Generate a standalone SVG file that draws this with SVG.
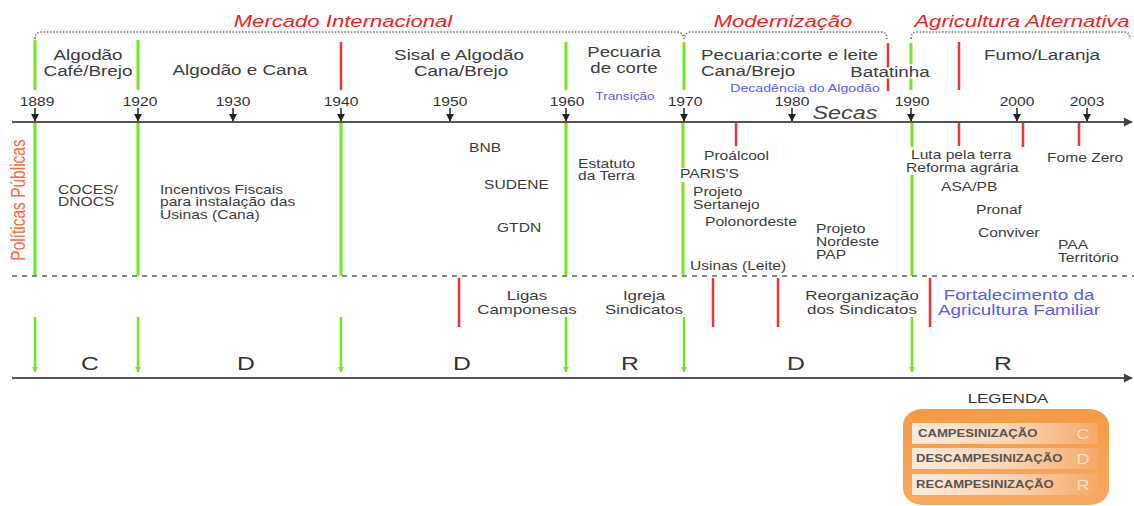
<svg xmlns="http://www.w3.org/2000/svg" width="1134" height="506" viewBox="0 0 1134 506">
<style>
text{font-family:"Liberation Sans",Arial,Helvetica,sans-serif;fill:#3c3c3c}
.top{font-size:14.5px}
.mid{text-anchor:middle}
.yr{font-size:12px;text-anchor:middle;fill:#333}
.pol{font-size:12px}
.low{font-size:13px;text-anchor:middle}
.hdr{font-size:17px;font-style:italic;fill:#ee2424;text-anchor:middle}
.blue{fill:#5a5af0}
.big{font-size:19px;text-anchor:middle;fill:#333}
.halo{stroke:#fff;stroke-width:3;paint-order:stroke}
.g{stroke:#72e61e;stroke-width:3;fill:none}
.ga{stroke:#72e61e;stroke-width:2.5;fill:none}
.r{stroke:#ee3333;stroke-width:2.5;fill:none}
.ax{stroke:#555;stroke-width:2;fill:none}
.ya{stroke:#222;stroke-width:1.5;fill:none}
.dot{stroke:#777;stroke-width:1.6;stroke-dasharray:1.6 1.6;fill:none}
.dash{stroke:#888;stroke-width:2;stroke-dasharray:5 5;fill:none}
.leg{font-size:10.5px;font-weight:bold;fill:#555}
.legl{font-size:15px;fill:#fde2cb;text-anchor:middle}
</style>
<defs>
<marker id="ya" viewBox="0 0 10 10" refX="9" refY="5" markerWidth="8" markerHeight="8" orient="auto" markerUnits="userSpaceOnUse"><path d="M0,0 L10,5 L0,10 z" fill="#222"/></marker>
<marker id="gah" viewBox="0 0 10 10" refX="9" refY="5" markerWidth="6" markerHeight="6" orient="auto" markerUnits="userSpaceOnUse"><path d="M0,0 L10,5 L0,10 z" fill="#72e61e"/></marker>
<marker id="axh" viewBox="0 0 10 10" refX="9" refY="5" markerWidth="10" markerHeight="9" orient="auto" markerUnits="userSpaceOnUse"><path d="M0,0 L10,5 L0,10 z" fill="#444"/></marker>
<linearGradient id="og" x1="0" y1="0" x2="0" y2="1"><stop offset="0" stop-color="#f39a45"/><stop offset="1" stop-color="#f7aa62"/></linearGradient>
<linearGradient id="rowg" x1="0" y1="0" x2="1" y2="0"><stop offset="0" stop-color="#fdeadb"/><stop offset="0.55" stop-color="#fbd3b0"/><stop offset="1" stop-color="#f6a868"/></linearGradient>
</defs>

<g id="connectors">
  <path class="dot" d="M35,39 Q35,32 41,32 L677,32 Q683,32 684,39 Q685,32 691,32 L881,32 Q887,32 887,39"/>
  <path class="dot" d="M911,39 Q911,32 917,32 L1124,32 Q1130,32 1130,39"/>
  <line class="g" x1="35" y1="40" x2="35" y2="90"/>
  <line class="g" x1="138" y1="40" x2="138" y2="90"/>
  <line class="r" x1="341" y1="42" x2="341" y2="90"/>
  <line class="g" x1="566" y1="42" x2="566" y2="90"/>
  <line class="g" x1="684" y1="42" x2="684" y2="90"/>
  <line class="r" x1="888" y1="43" x2="888" y2="91"/>
  <line class="g" x1="911" y1="43" x2="911" y2="90"/>
  <line class="r" x1="959" y1="42" x2="959" y2="90"/>
  <line class="ax" x1="12" y1="122" x2="1132" y2="122" marker-end="url(#axh)"/>
  <g class="ya">
    <line x1="35" y1="108" x2="35" y2="121" marker-end="url(#ya)"/>
    <line x1="138" y1="108" x2="138" y2="121" marker-end="url(#ya)"/>
    <line x1="233" y1="108" x2="233" y2="121" marker-end="url(#ya)"/>
    <line x1="341" y1="108" x2="341" y2="121" marker-end="url(#ya)"/>
    <line x1="450" y1="108" x2="450" y2="121" marker-end="url(#ya)"/>
    <line x1="566" y1="108" x2="566" y2="121" marker-end="url(#ya)"/>
    <line x1="684" y1="108" x2="684" y2="121" marker-end="url(#ya)"/>
    <line x1="792" y1="108" x2="792" y2="121" marker-end="url(#ya)"/>
    <line x1="911" y1="108" x2="911" y2="121" marker-end="url(#ya)"/>
    <line x1="1017" y1="108" x2="1017" y2="121" marker-end="url(#ya)"/>
    <line x1="1087" y1="108" x2="1087" y2="121" marker-end="url(#ya)"/>
  </g>
  <line class="g" x1="35" y1="123" x2="35" y2="276"/>
  <line class="g" x1="138" y1="123" x2="138" y2="276"/>
  <line class="g" x1="341" y1="123" x2="341" y2="276"/>
  <line class="g" x1="566" y1="123" x2="566" y2="276"/>
  <line class="g" x1="683" y1="123" x2="683" y2="168"/>
  <line class="g" x1="683" y1="182" x2="683" y2="276"/>
  <line class="g" x1="912" y1="123" x2="912" y2="147"/>
  <line class="g" x1="912" y1="175" x2="912" y2="276"/>
  <line class="r" x1="736" y1="123" x2="736" y2="146"/>
  <line class="r" x1="959" y1="123" x2="959" y2="146"/>
  <line class="r" x1="1023" y1="123" x2="1023" y2="147"/>
  <line class="r" x1="1079" y1="123" x2="1079" y2="146"/>
  <line class="dash" x1="12" y1="276" x2="1134" y2="276"/>
  <line class="r" x1="459" y1="278" x2="459" y2="327"/>
  <line class="r" x1="713" y1="278" x2="713" y2="327"/>
  <line class="r" x1="778" y1="278" x2="778" y2="327"/>
  <line class="r" x1="930" y1="278" x2="930" y2="327"/>
  <line class="ga" x1="35" y1="317" x2="35" y2="372" marker-end="url(#gah)"/>
  <line class="ga" x1="138" y1="317" x2="138" y2="372" marker-end="url(#gah)"/>
  <line class="ga" x1="341" y1="317" x2="341" y2="372" marker-end="url(#gah)"/>
  <line class="ga" x1="566" y1="317" x2="566" y2="372" marker-end="url(#gah)"/>
  <line class="ga" x1="684" y1="317" x2="684" y2="372" marker-end="url(#gah)"/>
  <line class="ga" x1="912" y1="317" x2="912" y2="372" marker-end="url(#gah)"/>
  <line class="ax" x1="12" y1="378" x2="1132" y2="378" marker-end="url(#axh)"/>
</g>

<g id="headers">
  <text class="hdr" transform="translate(343,27) scale(1.3,1)">Mercado Internacional</text>
  <text class="hdr" transform="translate(783,27) scale(1.3,1)">Modernização</text>
  <text class="hdr" transform="translate(1022,27) scale(1.3,1)">Agricultura Alternativa</text>
</g>

<g id="era-1889">
  <text class="top mid" transform="translate(88,60) scale(1.3,1)">Algodão</text>
  <text class="top mid" transform="translate(88,76) scale(1.3,1)">Café/Brejo</text>
</g>
<g id="era-1920"><text class="top mid" transform="translate(240,75) scale(1.3,1)">Algodão e Cana</text></g>
<g id="era-1940">
  <text class="top mid" transform="translate(459,60) scale(1.3,1)">Sisal e Algodão</text>
  <text class="top mid" transform="translate(461,76) scale(1.3,1)">Cana/Brejo</text>
</g>
<g id="era-1960">
  <text class="top mid" style="font-size:14px" transform="translate(624,57) scale(1.33,1)">Pecuaria</text>
  <text class="top mid" style="font-size:14px" transform="translate(624,73) scale(1.33,1)">de corte</text>
  <text class="blue" style="font-size:10.5px;text-anchor:middle" transform="translate(625,100) scale(1.3,1)">Transição</text>
</g>
<g id="era-1970">
  <text class="top" transform="translate(701,60) scale(1.3,1)">Pecuaria:corte e leite</text>
  <text class="top" transform="translate(701,76) scale(1.3,1)">Cana/Brejo</text>
  <text class="blue" style="font-size:10.5px;text-anchor:middle" transform="translate(805,92) scale(1.35,1)">Decadência do Algodão</text>
</g>
<g id="era-batatinha"><text class="top mid halo" transform="translate(890,77) scale(1.3,1)">Batatinha</text></g>
<g id="era-1990"><text class="top mid" transform="translate(1042,60) scale(1.3,1)">Fumo/Laranja</text></g>

<g id="years">
  <text class="yr" transform="translate(37,106) scale(1.3,1)">1889</text>
  <text class="yr" transform="translate(140,106) scale(1.3,1)">1920</text>
  <text class="yr" transform="translate(233,106) scale(1.3,1)">1930</text>
  <text class="yr" transform="translate(341,106) scale(1.3,1)">1940</text>
  <text class="yr" transform="translate(450,106) scale(1.3,1)">1950</text>
  <text class="yr" transform="translate(567,106) scale(1.3,1)">1960</text>
  <text class="yr" transform="translate(685,106) scale(1.3,1)">1970</text>
  <text class="yr" transform="translate(792,106) scale(1.3,1)">1980</text>
  <text class="yr" transform="translate(912,106) scale(1.3,1)">1990</text>
  <text class="yr" transform="translate(1017,106) scale(1.3,1)">2000</text>
  <text class="yr" transform="translate(1087,106) scale(1.3,1)">2003</text>
</g>
<g id="secas"><text style="font-size:18px;font-style:italic;fill:#444;text-anchor:middle" transform="translate(845,119) scale(1.3,1)">Secas</text></g>

<g id="politicas-label"><text style="font-size:15.5px;fill:#f26a3e;text-anchor:middle" transform="translate(25,200) rotate(-90) scale(1,1.25)">Políticas Públicas</text></g>

<g id="pol-coces">
  <text class="pol" transform="translate(58,194) scale(1.3,1)">COCES/</text>
  <text class="pol" transform="translate(58,206) scale(1.3,1)">DNOCS</text>
</g>
<g id="pol-incentivos">
  <text class="pol" transform="translate(160,194) scale(1.3,1)">Incentivos Fiscais</text>
  <text class="pol" transform="translate(160,206) scale(1.3,1)">para instalação das</text>
  <text class="pol" transform="translate(160,219) scale(1.3,1)">Usinas (Cana)</text>
</g>
<g id="pol-bnb"><text class="pol" transform="translate(469,152) scale(1.3,1)">BNB</text></g>
<g id="pol-sudene"><text class="pol" transform="translate(484,189) scale(1.3,1)">SUDENE</text></g>
<g id="pol-gtdn"><text class="pol" transform="translate(497,232) scale(1.3,1)">GTDN</text></g>
<g id="pol-estatuto">
  <text class="pol" transform="translate(578,168) scale(1.3,1)">Estatuto</text>
  <text class="pol" transform="translate(578,180) scale(1.3,1)">da Terra</text>
</g>
<g id="pol-proalcool"><text class="pol" transform="translate(704,160) scale(1.3,1)">Proálcool</text></g>
<g id="pol-pariss"><text class="pol" transform="translate(680,178) scale(1.3,1)">PARIS'S</text></g>
<g id="pol-sertanejo">
  <text class="pol" transform="translate(693,196) scale(1.3,1)">Projeto</text>
  <text class="pol" transform="translate(693,209) scale(1.3,1)">Sertanejo</text>
</g>
<g id="pol-polonordeste"><text class="pol" transform="translate(705,226) scale(1.3,1)">Polonordeste</text></g>
<g id="pol-nordeste">
  <text class="pol" transform="translate(816,233) scale(1.3,1)">Projeto</text>
  <text class="pol" transform="translate(816,246) scale(1.3,1)">Nordeste</text>
  <text class="pol" transform="translate(816,259) scale(1.3,1)">PAP</text>
</g>
<g id="pol-usinas"><text class="pol" transform="translate(690,270) scale(1.3,1)">Usinas (Leite)</text></g>
<g id="pol-luta">
  <text class="pol" transform="translate(911,159) scale(1.3,1)">Luta pela terra</text>
  <text class="pol" transform="translate(906,172) scale(1.3,1)">Reforma agrária</text>
</g>
<g id="pol-fomezero"><text class="pol" transform="translate(1047,162) scale(1.3,1)">Fome Zero</text></g>
<g id="pol-asa"><text class="pol" transform="translate(941,191) scale(1.3,1)">ASA/PB</text></g>
<g id="pol-pronaf"><text class="pol" transform="translate(976,214) scale(1.3,1)">Pronaf</text></g>
<g id="pol-conviver"><text class="pol" transform="translate(978,237) scale(1.3,1)">Conviver</text></g>
<g id="pol-paa">
  <text class="pol" transform="translate(1058,249) scale(1.3,1)">PAA</text>
  <text class="pol" transform="translate(1058,262) scale(1.3,1)">Território</text>
</g>

<g id="mov-ligas">
  <text class="low" transform="translate(527,300) scale(1.3,1)">Ligas</text>
  <text class="low" transform="translate(527,314) scale(1.3,1)">Camponesas</text>
</g>
<g id="mov-igreja">
  <text class="low" transform="translate(644,300) scale(1.3,1)">Igreja</text>
  <text class="low" transform="translate(644,314) scale(1.3,1)">Sindicatos</text>
</g>
<g id="mov-reorg">
  <text class="low" transform="translate(862,300) scale(1.3,1)">Reorganização</text>
  <text class="low" transform="translate(862,314) scale(1.3,1)">dos Sindicatos</text>
</g>
<g id="mov-fortalecimento">
  <text class="low blue" style="font-size:14.5px" transform="translate(1019,300) scale(1.3,1)">Fortalecimento da</text>
  <text class="low blue" style="font-size:14.5px" transform="translate(1019,315) scale(1.3,1)">Agricultura Familiar</text>
</g>

<g id="phases">
  <text class="big" transform="translate(90,370) scale(1.3,1)">C</text>
  <text class="big" transform="translate(246,370) scale(1.3,1)">D</text>
  <text class="big" transform="translate(462,370) scale(1.3,1)">D</text>
  <text class="big" transform="translate(630,370) scale(1.3,1)">R</text>
  <text class="big" transform="translate(796,370) scale(1.3,1)">D</text>
  <text class="big" transform="translate(1003,370) scale(1.3,1)">R</text>
</g>

<g id="legend">
  <text style="font-size:13px;fill:#333;text-anchor:middle" transform="translate(1008,403) scale(1.3,1)">LEGENDA</text>
  <rect x="903" y="409" width="206" height="96" rx="20" ry="16" fill="url(#og)"/>
  <rect x="912" y="423" width="186" height="21" fill="url(#rowg)"/>
  <rect x="912" y="448" width="186" height="21" fill="url(#rowg)"/>
  <rect x="912" y="474" width="186" height="21" fill="url(#rowg)"/>
  <text class="leg" transform="translate(918,437) scale(1.25,1)">CAMPESINIZAÇÃO</text>
  <text class="leg" transform="translate(916,462) scale(1.25,1)">DESCAMPESINIZAÇÃO</text>
  <text class="leg" transform="translate(916,488) scale(1.25,1)">RECAMPESINIZAÇÃO</text>
  <text class="legl" transform="translate(1083,439) scale(1.2,1)">C</text>
  <text class="legl" transform="translate(1083,464) scale(1.2,1)">D</text>
  <text class="legl" transform="translate(1083,490) scale(1.2,1)">R</text>
</g>
</svg>
